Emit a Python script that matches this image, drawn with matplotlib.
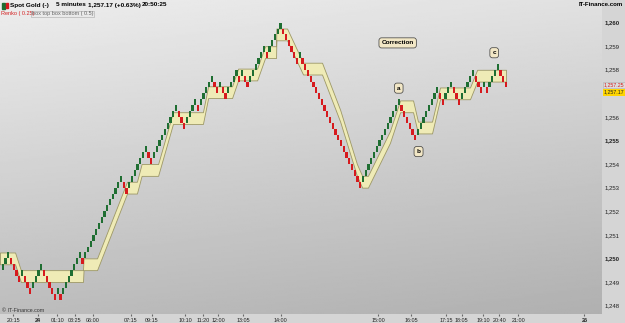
import numpy as np
import matplotlib
matplotlib.use("Agg")
import matplotlib.pyplot as plt
from matplotlib.patches import Rectangle

plt.rcParams['font.family'] = ['Liberation Sans', 'DejaVu Sans']

BOX = 0.25   # renko brick size
BAND = 0.5   # box top / box bottom height

# lower edge of every renko brick, one brick per column
brick_low = [
    1249.5, 1249.75, 1250.0, 1249.75, 1249.5, 1249.25, 1249.0, 1249.25, 1249.0, 1248.75,
    1248.5, 1248.75, 1249.0, 1249.25, 1249.5, 1249.25, 1249.0, 1248.75, 1248.5, 1248.25,
    1248.5, 1248.25,
    1248.5, 1248.75, 1249.0, 1249.25, 1249.5, 1249.75, 1250.0, 1249.75, 1250.0, 1250.25,
    1250.5, 1250.75, 1251.0, 1251.25, 1251.5, 1251.75, 1252.0, 1252.25, 1252.5, 1252.75,
    1253.0,
    1253.25, 1253.0, 1252.75, 1253.0, 1253.25, 1253.5, 1253.75, 1254.0, 1254.25, 1254.5,
    1254.25, 1254.0, 1254.25, 1254.5, 1254.75, 1255.0, 1255.25, 1255.5, 1255.75, 1256.0,
    1256.25, 1256.0, 1255.75, 1255.5, 1255.75, 1256.0, 1256.25, 1256.5, 1256.25, 1256.5,
    1256.75, 1257.0, 1257.25,
    1257.5, 1257.25, 1257.0, 1257.25, 1257.0, 1256.75, 1257.0, 1257.25, 1257.5, 1257.75,
    1257.5, 1257.75, 1257.5, 1257.25, 1257.5, 1257.75, 1258.0, 1258.25, 1258.5, 1258.75,
    1258.5, 1258.75, 1259.0, 1259.25, 1259.5, 1259.75,
    1259.5, 1259.25, 1259.0, 1258.75, 1258.5, 1258.25, 1258.5, 1258.25, 1258.0, 1257.75,
    1257.5, 1257.25, 1257.0, 1256.75, 1256.5, 1256.25, 1256.0, 1255.75, 1255.5, 1255.25,
    1255.0, 1254.75, 1254.5, 1254.25, 1254.0, 1253.75, 1253.5, 1253.25, 1253.0,
    1253.25, 1253.5, 1253.75, 1254.0, 1254.25, 1254.5, 1254.75, 1255.0, 1255.25, 1255.5,
    1255.75, 1256.0, 1256.25, 1256.5, 1256.25, 1256.0, 1255.75, 1255.5, 1255.25, 1255.0,
    1255.25, 1255.5, 1255.75, 1256.0, 1256.25, 1256.5, 1256.75, 1257.0, 1256.75, 1256.5,
    1256.75, 1257.0, 1257.25, 1257.0, 1256.75, 1256.5, 1256.75, 1257.0, 1257.25, 1257.5,
    1257.75, 1257.5, 1257.25, 1257.0, 1257.25, 1257.0, 1257.25, 1257.5, 1257.75, 1258.0,
    1257.75, 1257.5, 1257.25,
]

# box top / box bottom band: column position and lower edge
band_x = [-1, 4.5, 6.6, 29.2, 29.4, 34.3, 45.2, 48.8, 50.5, 56.5, 61.9, 72.8, 74.7,
          83.4, 85.6, 92.5, 95.4, 99.4, 99.5, 103.4, 109.2, 116.1, 122.7, 128.8,
          130.7, 132.8, 140.8, 144.5, 149.2, 151.0, 156.1, 159.0, 169.9, 172.5, 183.0]
band_low = [1249.75, 1249.75, 1249.0, 1249.0, 1249.5, 1249.5, 1252.75, 1252.75,
            1253.5, 1253.5, 1255.7, 1255.7, 1256.8, 1256.8, 1257.55, 1257.55, 1258.5,
            1258.5, 1259.25, 1259.25, 1257.8, 1257.8, 1255.8, 1253.5, 1253.0, 1253.0,
            1254.9, 1256.2, 1256.2, 1255.3, 1255.3, 1256.75, 1256.75, 1257.5, 1257.5]

price_ticks = [1248, 1249, 1250, 1251, 1252, 1253, 1254, 1255, 1256, 1257, 1258, 1259, 1260]
time_pos = [3.8, 12.7, 19.9, 26.3, 32.7, 46.5, 54.2, 66.3, 72.9, 78.4, 87.5, 101.1,
            136.6, 148.5, 161.2, 166.9, 174.8, 180.6, 187.5, 211.5]
time_labels = ['20:15', '24', '01:10', '03:25', '06:00', '07:15', '09:15', '10:10', '11:20',
               '12:00', '13:05', '14:00', '15:00', '16:05', '17:15', '18:05', '19:10',
               '20:40', '21:00', '26']

last_price = 1257.17

W, H = 625, 323
fig = plt.figure(figsize=(W / 100, H / 100), dpi=100)
fig.patch.set_facecolor('#d5d5d5')
ax = fig.add_axes([0, 9 / H, 602 / W, 314 / H])

# grey gradient background
h = np.linspace(0, 1, 200)
v = np.linspace(0, 1, 200)
hh, vv = np.meshgrid(h, v)
grad = 0.93 - 0.19 * vv - 0.05 * hh
ax.imshow(grad, extent=[0, 1, 0, 1], transform=ax.transAxes, cmap='gray',
          vmin=0, vmax=1, aspect='auto', zorder=0)

ax.set_xlim(-0.98, 217.9)
ax.set_ylim(1247.64, 1260.96)

band_low = np.array(band_low)
ax.fill_between(band_x, band_low, band_low + BAND, facecolor='#efebb6',
                edgecolor='#9d9866', linewidth=0.6, zorder=2)

lows = np.array(brick_low)
x = np.arange(len(lows))
up = np.r_[True, lows[1:] > lows[:-1]]
colors = np.where(up, '#1f6e32', '#d61a1e')
ax.bar(x, BOX, bottom=lows, width=0.78, color=colors, linewidth=0, zorder=3)

for s in ax.spines.values():
    s.set_visible(False)

# the 1,257 label sits under the last-price marker, so it is left blank
ax.yaxis.tick_right()
ax.set_yticks(price_ticks)
ax.set_yticklabels([f'{p:,}' if p != 1257 else '' for p in price_ticks])
ax.tick_params(axis='y', labelsize=4.3, length=0, pad=2, labelcolor='#222222')
for lab, p in zip(ax.get_yticklabels(), price_ticks):
    if p % 5 == 0:
        lab.set_fontweight('bold')

ax.set_xticks(time_pos)
ax.set_xticklabels(time_labels)
ax.tick_params(axis='x', labelsize=3.9, length=1.5, pad=1.2, color='#666666',
               labelcolor='#222222')
for lab in ax.get_xticklabels():
    if len(lab.get_text()) == 2:
        lab.set_fontweight('bold')

# wave labels
box = dict(boxstyle='round,pad=0.4', fc='#f2e7c6', ec='#3a3a3a', lw=0.5)
ax.text(143.6, 1259.14, 'Correction', fontsize=4.6, fontweight='bold', ha='center',
        va='center', bbox=box, zorder=5)
ax.annotate('a', (144, lows[144] + BOX), xytext=(0, 8), textcoords='offset points',
            fontsize=4.6, fontweight='bold', ha='center', va='center', bbox=box, zorder=5)
ax.annotate('b', (151.2, lows[150]), xytext=(0, -8), textcoords='offset points',
            fontsize=4.6, fontweight='bold', ha='center', va='center', bbox=box, zorder=5)
ax.annotate('c', (178.7, lows[180] + BOX), xytext=(0, 8), textcoords='offset points',
            fontsize=4.6, fontweight='bold', ha='center', va='center', bbox=box, zorder=5)

# last values on the price scale
ax.text(1.003, lows[-1] + 0.11, f'{lows[-1]:,.2f}', transform=ax.get_yaxis_transform(),
        fontsize=3.8, color='#d42020', va='center', ha='left', clip_on=False,
        bbox=dict(boxstyle='square,pad=0.12', fc='#dcdcdc', ec='#b0b0b0', lw=0.4))
ax.text(1.003, last_price - 0.12, f'{last_price:,.2f}', transform=ax.get_yaxis_transform(),
        fontsize=3.8, color='#222222', va='center', ha='left', clip_on=False,
        bbox=dict(boxstyle='square,pad=0.2', fc='#ffd500', ec='none'))

# header
fig.add_artist(Rectangle((2 / W, 1 - 9 / H), 2.5 / W, 6 / H, color='#1f6e32'))
fig.add_artist(Rectangle((5.5 / W, 1 - 8 / H), 2.5 / W, 5 / H, color='#d61a1e'))
hy = 1 - 5 / H
fig.text(10 / W, hy, 'Spot Gold (-)', fontsize=4.6, fontweight='bold', va='center')
fig.text(56 / W, hy, '5 minutes', fontsize=4.6, fontweight='bold', va='center')
fig.text(88 / W, hy, '1,257.17 (+0.63%)', fontsize=4.6, fontweight='bold', va='center')
fig.text(142 / W, hy, '20:50:25', fontsize=4.6, fontweight='bold', va='center')
fig.text(623 / W, hy, 'IT-Finance.com', fontsize=4.4, fontweight='bold', va='center',
         ha='right')
fig.text(1 / W, 1 - 14 / H, 'Renko ( 0.25)', fontsize=4.0, color='#d42020', va='center')
fig.text(32 / W, 1 - 14 / H, 'box top box bottom ( 0.5)', fontsize=4.0, color='#666666',
         va='center', bbox=dict(boxstyle='square,pad=0.15', fc='none', ec='#aaaaaa', lw=0.4))
fig.text(2 / W, 1 - 311 / H, '\u00a9 IT-Finance.com', fontsize=3.8, color='#333333',
         va='center')

fig.savefig('out.png', dpi=100, facecolor=fig.get_facecolor())
